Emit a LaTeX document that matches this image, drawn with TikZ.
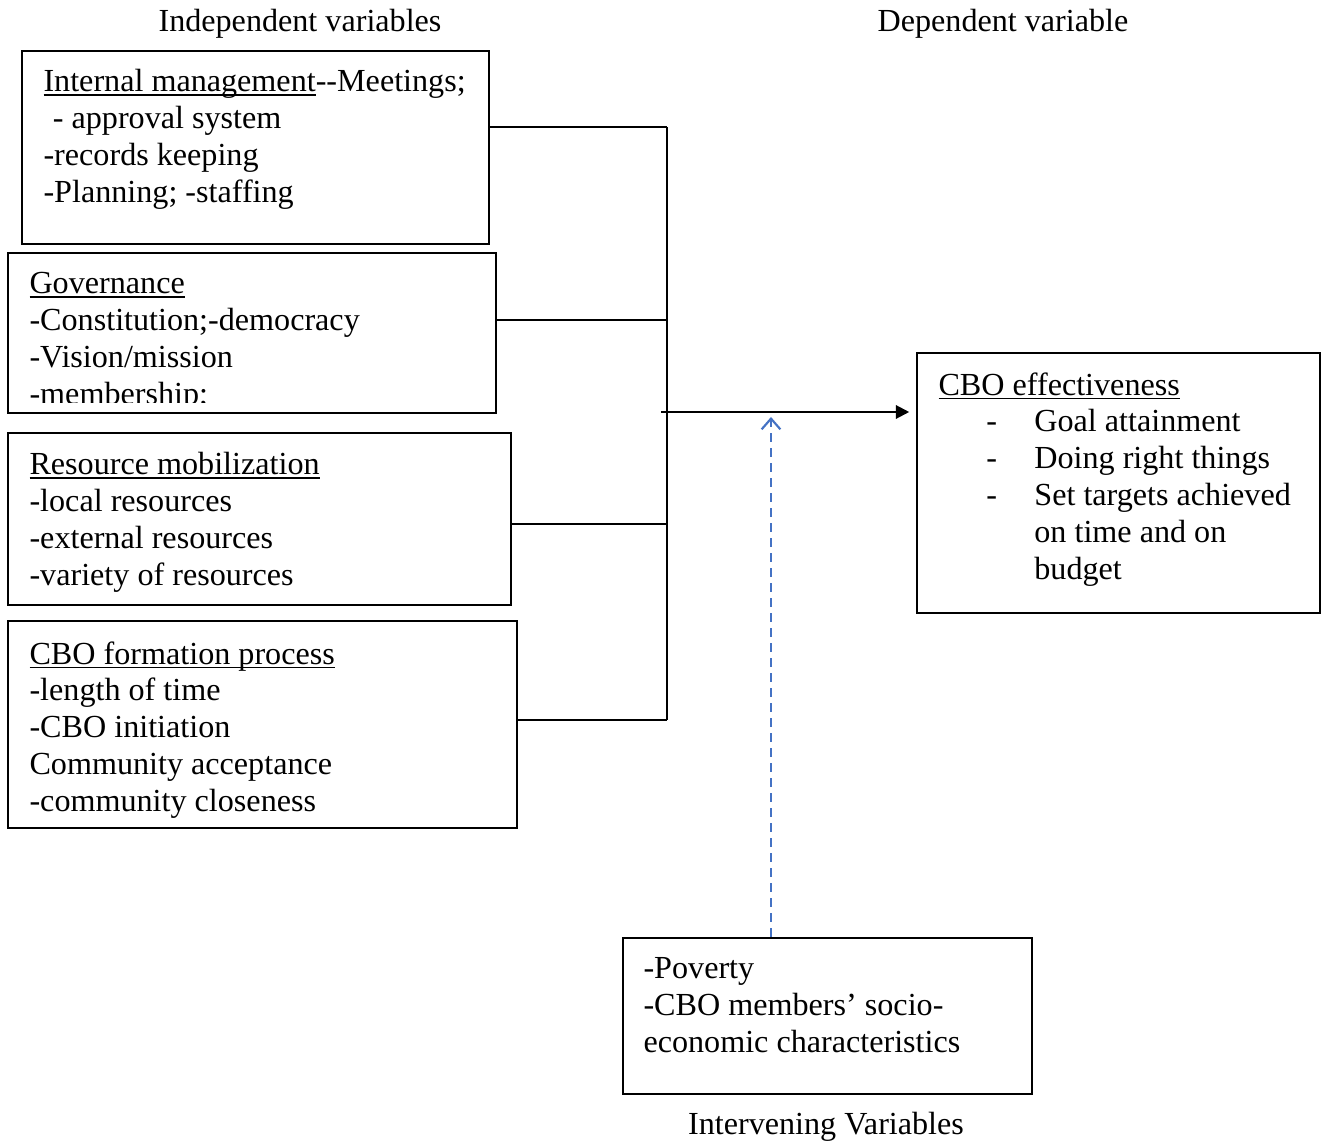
\documentclass[tikz,border=0pt]{standalone}
\usepackage{fontspec}
\setmainfont{Liberation Serif}
\usepackage{xcolor}
\usetikzlibrary{arrows.meta,positioning,fit}

\definecolor{dashblue}{RGB}{68,114,196}
\newcommand{\dashitem}[1]{\hspace*{17.9pt}\makebox[17.9pt][l]{-}#1}
\newcommand{\contline}[1]{\hspace*{35.8pt}#1}
\newcommand{\undl}[1]{\setbox0\hbox{#1}\rlap{\rule[-1.4pt]{\wd0}{0.45pt}}\box0}

\begin{document}
\begin{tikzpicture}[
  x=0.01312cm, y=-0.01312cm,
  box/.style={draw, line width=0.8pt, inner sep=0pt},
  txt/.style={align=left, inner sep=0pt, anchor=north west, font=\fontsize{12}{13.75}\selectfont},
  ttl/.style={inner sep=0pt, font=\fontsize{12}{13.75}\selectfont},
  conn/.style={line width=0.8pt},
  arr/.style={-{Triangle[length=5pt,width=5pt]}, line width=0.8pt, shorten >=2.5pt},
  modarr/.style={-{Straight Barb[length=4pt,width=7pt]}, line width=0.8pt, draw=dashblue, dash pattern=on 3.4pt off 2.2pt}
]
\useasboundingbox (0,0) rectangle (1321,1142);

% titles
\node[ttl] (tind) at (300,24) {Independent variables};
\node[ttl] (tdep) at (1003,24) {Dependent variable};
\node[ttl] (tint) at (826,1127) {Intervening Variables};

% independent variables
\node[box, fit={(22,51) (489,244)}] (im) {};
\node[txt] (imt) at (43,69) {\undl{Internal management}-{}-Meetings;\\
  \hspace*{3.5pt}- approval system\\-records keeping\\-Planning; -staffing};

\node[box, fit={(8,253) (496,413)}] (gov) {};
\begin{scope}
  \clip (8,253) rectangle (496,403);
  \node[txt] (govt) at (29,272) {\undl{Governance}\\-Constitution;-democracy\\
    -Vision/mission\\-membership;};
\end{scope}

\node[box, fit={(8,433) (511,605)}] (res) {};
\node[txt] (rest) at (29,452) {\undl{Resource mobilization}\\-local resources\\
  -external resources\\-variety of resources};

\node[box, fit={(8,621) (517,828)}] (form) {};
\node[txt] (formt) at (29,641) {\undl{CBO formation process}\\-length of time\\
  -CBO initiation\\Community acceptance\\-community closeness};

% dependent variable
\node[box, fit={(917,353) (1320,613)}] (cbo) {};
\node[txt] (cbot) at (938,372) {\undl{CBO effectiveness}\\\dashitem{Goal attainment}\\
  \dashitem{Doing right things}\\\dashitem{Set targets achieved}\\
  \contline{on time and on}\\\contline{budget}};

% intervening variables
\node[box, fit={(623,938) (1032,1094)}] (inv) {};
\node[txt] (invt) at (643,957) {-Poverty\\-CBO members’ socio-\\economic characteristics};

% joining lines
\coordinate (j1) at (667,127);
\coordinate (j2) at (667,320);
\coordinate (j3) at (667,524);
\coordinate (j4) at (667,720);
\coordinate (jm) at (661,412);
\coordinate (dtip) at (771,417);

\draw[conn] (j1) -- (j4);
\draw[conn] (im.east |- j1) -- (j1);
\draw[conn] (gov.east |- j2) -- (j2);
\draw[conn] (res.east |- j3) -- (j3);
\draw[conn] (form.east |- j4) -- (j4);
\draw[arr] (jm) -- (jm -| cbo.west);
\draw[modarr] (inv.north -| dtip) -- (dtip);

\end{tikzpicture}
\end{document}
